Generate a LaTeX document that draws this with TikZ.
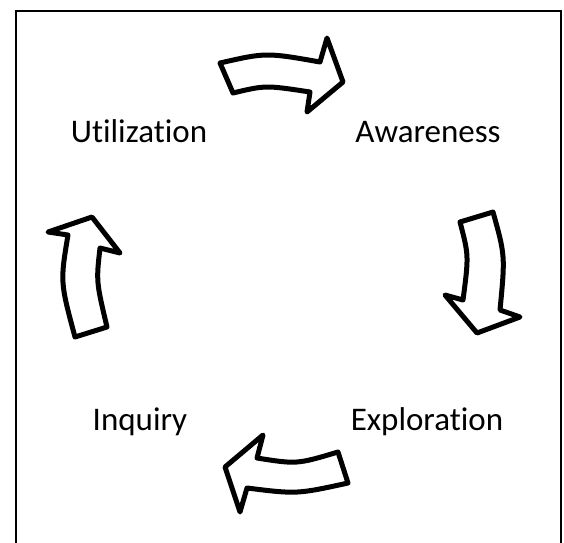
\documentclass[tikz,border=0pt]{standalone}
\usepackage{fontspec}
\setmainfont{Carlito}[Ligatures={NoCommon,NoContextual}]
\begin{document}
\begin{tikzpicture}[x=1pt,y=-1pt,
  cyclearrow/.style={draw=black,line width=5pt,line join=round,fill=white},
  stage/.style={anchor=base,inner sep=0pt,font=\fontsize{33}{40}\selectfont}]
\useasboundingbox (0,0) rectangle (564,542);
% open frame (bottom edge lies outside the page)
\draw[line width=2pt] (16,560) -- (16,11) -- (561,11) -- (561,560);
% stage labels
\node[stage] (util) at (139,142) {Utilization};
\node[stage] (aware) at (428,142) {Awareness};
\node[stage] (inq) at (140,430) {Inquiry};
\node[stage] (expl) at (427,430) {Exploration};
% curved block arrows between the stages
\draw[cyclearrow] (220,63) .. controls (266,52.5) .. (320,62) -- (327,38) -- (343,82)
  -- (307,112) -- (310,92) .. controls (265.5,85.2) .. (233,93) -- cycle;
\draw[cyclearrow] (460,222) -- (493,212) .. controls (505.2,255.7) .. (500,310) -- (520,317)
  -- (477,333) -- (445,295) -- (463,300) .. controls (468.8,255.7) .. (460,222) -- cycle;
\draw[cyclearrow] (348,483) -- (338,452) .. controls (296.8,464.3) .. (257,458) -- (263,435)
  -- (225,467) -- (240,512) -- (247,488) .. controls (296.8,494.2) .. (348,483) -- cycle;
\draw[cyclearrow] (107,327) -- (75,337) .. controls (60.2,282) .. (68,235) -- (48,232)
  -- (92,217) -- (120,253) -- (100,248) .. controls (96.2,281.5) .. (107,327) -- cycle;
\end{tikzpicture}
\end{document}
